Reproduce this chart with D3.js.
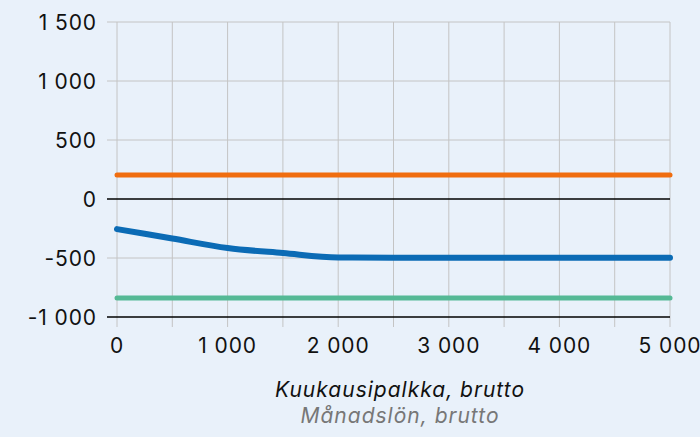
<!DOCTYPE html>
<html>
<head>
<meta charset="utf-8">
<script src="https://cdn.jsdelivr.net/npm/d3@7"></script>
<style>
  body { margin: 0; background: #e9f1fa; }
  text { font-family: Inter, "Liberation Sans", sans-serif; }
</style>
</head>
<body>
<script>
    var salary = [0, 500, 1000, 1500, 2000, 2500, 3000, 3500, 4000, 4500, 5000];
    var blueVals = [-255, -335, -415, -458, -495, -497, -497, -497, -497, -497, -497];
    var orangeVals = [203, 203, 203, 203, 203, 203, 203, 203, 203, 203, 203];
    var greenVals = [-840, -840, -840, -840, -840, -840, -840, -840, -840, -840, -840];
    var yTicks = [-1000, -500, 0, 500, 1000, 1500];
    var xTicks = [0, 1000, 2000, 3000, 4000, 5000];
    var xGrid = [0, 500, 1000, 1500, 2000, 2500, 3000, 3500, 4000, 4500, 5000];

    var W = 700, H = 437,
        mLeft = 117, mRight = 670, mTop = 22, mBottom = 317;

    var fmt = function(v) {
        var s = d3.format(",")(Math.abs(v)).replace(/,/g, " ");
        return (v < 0 ? "-" : "") + s;
    };

    var x = d3.scaleLinear().domain([0, 5000]).range([mLeft, mRight]);
    var y = d3.scaleLinear().domain([-1000, 1500]).range([mBottom, mTop]);

    var svg = d3.select("body").append("svg")
        .attr("width", W)
        .attr("height", H);

    // vertical grid
    svg.selectAll(".vgrid")
        .data(xGrid)
        .enter().append("line")
        .attr("x1", function(d) { return x(d); })
        .attr("x2", function(d) { return x(d); })
        .attr("y1", mTop)
        .attr("y2", mBottom + 10)
        .attr("stroke", "#c4c4c4")
        .attr("stroke-width", 1);

    // horizontal grid
    svg.selectAll(".hgrid")
        .data(yTicks)
        .enter().append("line")
        .attr("x1", mLeft - 10)
        .attr("x2", mRight)
        .attr("y1", function(d) { return y(d); })
        .attr("y2", function(d) { return y(d); })
        .attr("stroke", function(d) { return (d === 0 || d === -1000) ? "#000" : "#c4c4c4"; })
        .attr("stroke-width", function(d) { return (d === 0 || d === -1000) ? 1.5 : 1; });

    svg.selectAll(".ylab")
        .data(yTicks)
        .enter().append("text")
        .attr("x", 97)
        .attr("y", function(d) { return y(d); })
        .attr("dy", "0.36em")
        .attr("text-anchor", "end")
        .attr("font-size", 21)
        .attr("letter-spacing", 0.9)
        .attr("fill", "#111")
        .text(fmt);

    svg.selectAll(".xlab")
        .data(xTicks)
        .enter().append("text")
        .attr("x", function(d) { return x(d); })
        .attr("y", 353)
        .attr("text-anchor", "middle")
        .attr("font-size", 21)
        .attr("letter-spacing", 0.9)
        .attr("fill", "#111")
        .text(fmt);

    var line = d3.line()
        .x(function(d, i) { return x(salary[i]); })
        .y(function(d) { return y(d); })
        .curve(d3.curveMonotoneX);

    var series = [
        { vals: orangeVals, color: "#f06d0f", w: 5 },
        { vals: greenVals, color: "#55b995", w: 5 },
        { vals: blueVals, color: "#0b6bb5", w: 6 }
    ];

    svg.selectAll(".series")
        .data(series)
        .enter().append("path")
        .attr("d", function(d) { return line(d.vals); })
        .attr("fill", "none")
        .attr("stroke", function(d) { return d.color; })
        .attr("stroke-width", function(d) { return d.w; })
        .attr("stroke-linecap", "round")
        .attr("stroke-linejoin", "round");

    svg.append("text")
        .attr("x", 400)
        .attr("y", 397)
        .attr("text-anchor", "middle")
        .attr("font-size", 21)
        .attr("letter-spacing", 1)
        .attr("font-style", "italic")
        .attr("fill", "#111")
        .text("Kuukausipalkka, brutto");

    svg.append("text")
        .attr("x", 400)
        .attr("y", 423)
        .attr("text-anchor", "middle")
        .attr("font-size", 21)
        .attr("letter-spacing", 1)
        .attr("font-style", "italic")
        .attr("fill", "#777")
        .text("Månadslön, brutto");
</script>
</body>
</html>
